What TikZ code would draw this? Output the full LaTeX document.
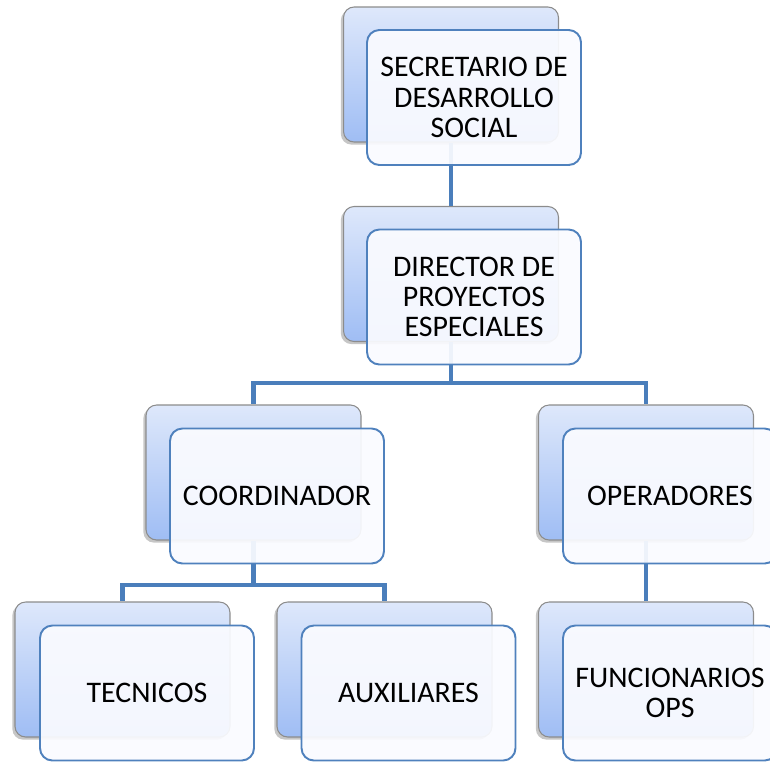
\documentclass[tikz,border=0pt]{standalone}
\usepackage{fontspec}
\setmainfont{Carlito}
\usepackage{tikz}
\usetikzlibrary{shadows}

\definecolor{linkblue}{HTML}{4A7EBB}
\definecolor{edgeblue}{HTML}{4F81BD}
\definecolor{topblue}{HTML}{DEE8FB}
\definecolor{lowblue}{HTML}{9FBDF4}
\definecolor{frontfill}{HTML}{FAFBFF}

\begin{document}
\begin{tikzpicture}[x=0.02cm, y=-0.02cm,
    backbox/.style = {draw=gray!90, line width=0.6pt, rounded corners=6pt,
      top color=topblue, bottom color=lowblue,
      minimum width=4.3cm, minimum height=2.7cm,
      drop shadow={shadow xshift=-1.5pt, shadow yshift=-1.5pt, opacity=.45}},
    frontbox/.style = {draw=edgeblue, line width=1.1pt, rounded corners=7pt,
      fill=frontfill, fill opacity=.93, text opacity=1,
      minimum width=4.28cm, minimum height=2.7cm, align=center,
      font=\fontsize{17}{17.2}\selectfont},
    link/.style = {draw=linkblue, line width=2.8pt}]

    \useasboundingbox (0,0) rectangle (770,761);

    % cajas de fondo
    \node[backbox] (secb) at (451,74.5) {};
    \node[backbox] (dirb) at (451,274) {};
    \node[backbox] (coob) at (253.5,472.5) {};
    \node[backbox] (opeb) at (646,472.5) {};
    \node[backbox] (tecb) at (122.5,669.5) {};
    \node[backbox] (auxb) at (384.5,669.5) {};
    \node[backbox] (funb) at (646,669.5) {};

    \coordinate (rail1) at (451,383);
    \coordinate (rail2) at (253.5,585);

    \draw[link] (secb.south) -- (dirb.north);
    \draw[link] (dirb.south) -- (rail1) -| (coob.north);
    \draw[link] (rail1) -| (opeb.north);
    \draw[link] (coob.south) -- (rail2) -| (tecb.north);
    \draw[link] (rail2) -| (auxb.north);
    \draw[link] (opeb.south) -- (funb.north);

    % cajas de texto
    \node[frontbox] (sec) at (474,97.5) {SECRETARIO DE\\DESARROLLO\\SOCIAL};
    \node[frontbox] (dir) at (474,297) {DIRECTOR DE\\PROYECTOS\\ESPECIALES};
    \node[frontbox] (coo) at (277,496) {COORDINADOR};
    \node[frontbox] (ope) at (670,496) {OPERADORES};
    \node[frontbox] (tec) at (147,693) {TECNICOS};
    \node[frontbox] (aux) at (408.5,693) {AUXILIARES};
    \node[frontbox] (fun) at (670,693) {FUNCIONARIOS\\OPS};

\end{tikzpicture}
\end{document}
